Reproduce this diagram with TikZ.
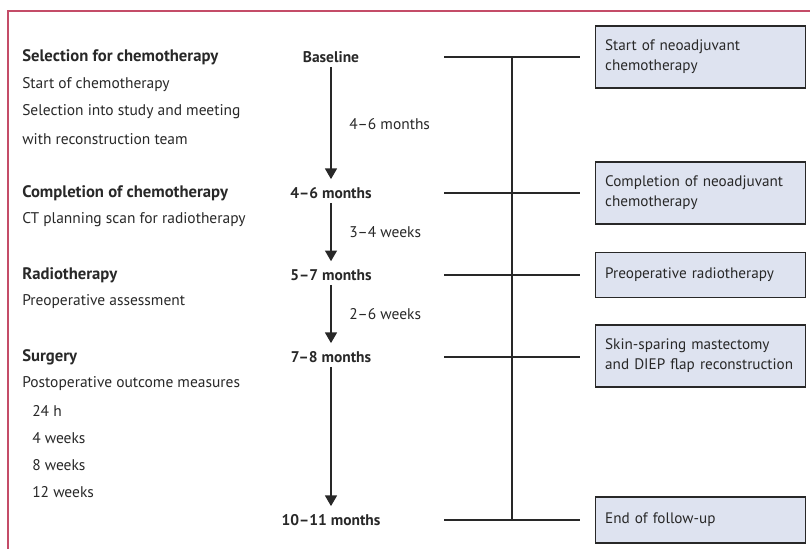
\documentclass[tikz,border=0pt]{standalone}
\usepackage{fontspec}
\setmainfont{PT Sans}
\usetikzlibrary{arrows.meta,positioning}
\definecolor{framered}{RGB}{196,76,104}
\definecolor{boxblue}{RGB}{222,227,240}
\definecolor{linegray}{RGB}{40,40,40}

\begin{document}
\begin{tikzpicture}[x=0.75pt,y=-0.75pt,
    every node/.style={font=\fontsize{11.6}{15}\selectfont, text=linegray},
    lefttext/.style={anchor=west, inner sep=0pt},
    headtext/.style={lefttext, font=\fontsize{12.5}{15}\selectfont\bfseries},
    stagetext/.style={inner sep=0pt, font=\fontsize{11.6}{15}\selectfont\bfseries},
    gaptext/.style={anchor=west, inner sep=0pt},
    eventbox/.style={draw=linegray, fill=boxblue, line width=0.8pt, align=left,
                     font=\fontsize{11.4}{15}\selectfont,
                     text width=143pt, inner xsep=7.5pt, minimum width=158pt},
    timearrow/.style={line width=1pt, draw=linegray, -{Triangle[length=8pt,width=9pt]},
                      shorten <=3pt, shorten >=6pt},
    tieline/.style={line width=0.8pt, draw=linegray}
  ]

  \useasboundingbox (0,0) rectangle (810,549);

  % Frame
  \draw[framered, line width=1pt] (8,549) -- (8,11) -- (810,11);

  % Left column
  \node[headtext] (sel) at (22,57) {Selection for chemotherapy};
  \node[lefttext] (sel1) at (22,85) {Start of chemotherapy};
  \node[lefttext] (sel2) at (22,112) {Selection into study and meeting};
  \node[lefttext] (sel3) at (22,139) {with reconstruction team};

  \node[headtext] (comp) at (22,193) {Completion of chemotherapy};
  \node[lefttext] (comp1) at (22,220) {CT planning scan for radiotherapy};

  \node[headtext] (radio) at (22,275) {Radiotherapy};
  \node[lefttext] (radio1) at (22,302) {Preoperative assessment};

  \node[headtext] (surg) at (22,357) {Surgery};
  \node[lefttext] (surg1) at (22,384) {Postoperative outcome measures};
  \foreach \y/\t [count=\i] in {411/24 h, 438/4 weeks, 465/8 weeks, 492/12 weeks} {
    \node[lefttext] (post\i) at (32,\y) {\t};
  }

  % Time points
  \node[stagetext] (t0) at (331,57) {Baseline};
  \node[stagetext] (t1) at (331,193) {4--6 months};
  \node[stagetext] (t2) at (331,275) {5--7 months};
  \node[stagetext] (t3) at (331,357) {7--8 months};
  \node[stagetext] (t4) at (331,520) {10--11 months};

  % Arrows between time points
  \draw[timearrow] (t0) -- (t1);
  \draw[timearrow] (t1) -- (t2);
  \draw[timearrow] (t2) -- (t3);
  \draw[timearrow] (t3) -- (t4);

  \node[gaptext] (g1) at (349,124) {4--6 months};
  \node[gaptext] (g2) at (349,232) {3--4 weeks};
  \node[gaptext] (g3) at (349,314) {2--6 weeks};

  % Event boxes
  \node[eventbox, minimum height=46.5pt] (b0) at (700.5,57) {Start of neoadjuvant\\chemotherapy};
  \node[eventbox, minimum height=46.5pt] (b1) at (700.5,193) {Completion of neoadjuvant\\chemotherapy};
  \node[eventbox, minimum height=33.75pt] (b2) at (700.5,275) {Preoperative radiotherapy};
  \node[eventbox, minimum height=46.5pt] (b3) at (700.5,356) {Skin-sparing mastectomy\\and DIEP flap reconstruction};
  \node[eventbox, minimum height=34.5pt] (b4) at (700.5,520) {End of follow-up};

  % Tie lines
  \foreach \n/\y in {0/57, 1/193, 2/275, 3/357, 4/520} {
    \coordinate (h\n) at (444,\y);
    \draw[tieline, shorten >=11.25pt] (h\n) -- (h\n -| b\n.west);
  }
  \coordinate (v0) at (512,57);
  \coordinate (v4) at (512,520);
  \draw[tieline] (v0) -- (v4);

\end{tikzpicture}
\end{document}
